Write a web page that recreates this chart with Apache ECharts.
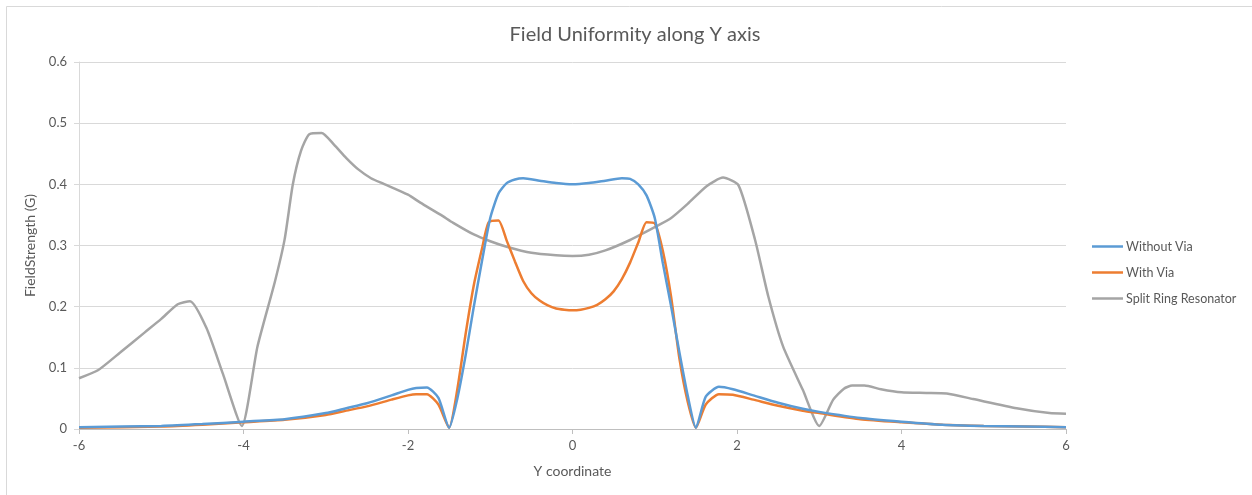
<!DOCTYPE html>
<html>
<head>
<meta charset="utf-8">
<title>Field Uniformity along Y axis</title>
<script src="https://cdn.jsdelivr.net/npm/echarts@6/dist/echarts.min.js"></script>
<style>
  html, body { margin: 0; padding: 0; background: #ffffff; }
  #chart { width: 1252px; height: 495px; }
</style>
</head>
<body>
<div id="chart"></div>
<script>
// Y coordinate samples and field strength (G) for each design
const withoutViaX = [-6, -5, -4.5, -4, -3.5, -3, -2.75, -2.5, -2.2, -2.0, -1.9, -1.77, -1.63, -1.5, -1.4, -1.3, -1.2, -1.1, -1.0, -0.9, -0.8, -0.7, -0.6, -0.4, -0.2, 0, 0.2, 0.4, 0.6, 0.7, 0.8, 0.9, 1.0, 1.1, 1.2, 1.3, 1.4, 1.5, 1.62, 1.78, 1.95, 2.2, 2.5, 2.8, 3.0, 3.5, 4, 4.5, 5, 5.5, 6];
const withoutViaY = [0.003, 0.005, 0.008, 0.012, 0.016, 0.026, 0.034, 0.042, 0.055, 0.064, 0.067, 0.068, 0.051, 0.002, 0.05, 0.12, 0.20, 0.275, 0.345, 0.385, 0.402, 0.408, 0.410, 0.406, 0.402, 0.400, 0.402, 0.406, 0.410, 0.409, 0.400, 0.382, 0.345, 0.27, 0.20, 0.125, 0.055, 0.002, 0.053, 0.069, 0.065, 0.055, 0.043, 0.033, 0.028, 0.018, 0.012, 0.007, 0.005, 0.004, 0.003];

const withViaX = [-6, -5, -4.5, -4, -3.5, -3, -2.75, -2.5, -2.2, -2.0, -1.9, -1.77, -1.63, -1.5, -1.4, -1.3, -1.2, -1.1, -1.02, -0.9, -0.8, -0.7, -0.6, -0.5, -0.4, -0.3, -0.2, -0.1, 0, 0.1, 0.2, 0.3, 0.4, 0.5, 0.6, 0.7, 0.8, 0.9, 1.0, 1.1, 1.2, 1.3, 1.4, 1.5, 1.62, 1.78, 1.95, 2.2, 2.5, 2.8, 3.0, 3.5, 4, 4.5, 5, 5.5, 6];
const withViaY = [0.002, 0.004, 0.007, 0.011, 0.015, 0.023, 0.030, 0.037, 0.048, 0.055, 0.057, 0.057, 0.040, 0.002, 0.065, 0.155, 0.235, 0.295, 0.338, 0.341, 0.308, 0.274, 0.242, 0.222, 0.210, 0.202, 0.197, 0.195, 0.194, 0.195, 0.198, 0.203, 0.212, 0.225, 0.245, 0.272, 0.305, 0.338, 0.336, 0.29, 0.215, 0.115, 0.045, 0.002, 0.040, 0.057, 0.056, 0.048, 0.038, 0.030, 0.026, 0.016, 0.011, 0.007, 0.005, 0.004, 0.003];

const splitRingX = [-6, -5.77, -5.5, -5.2, -5.0, -4.8, -4.65, -4.45, -4.25, -4.02, -3.83, -3.62, -3.5, -3.4, -3.3, -3.2, -3.05, -2.9, -2.75, -2.6, -2.45, -2.3, -2.0, -1.85, -1.6, -1.45, -1.2, -1.0, -0.8, -0.5, -0.2, 0, 0.2, 0.4, 0.7, 1.0, 1.2, 1.4, 1.63, 1.83, 2.02, 2.22, 2.38, 2.56, 2.8, 3.0, 3.17, 3.3, 3.4, 3.55, 3.75, 4.0, 4.3, 4.55, 4.87, 5.4, 5.8, 6];
const splitRingY = [0.083, 0.096, 0.125, 0.158, 0.180, 0.204, 0.209, 0.165, 0.09, 0.005, 0.135, 0.24, 0.31, 0.40, 0.455, 0.482, 0.484, 0.465, 0.443, 0.424, 0.41, 0.401, 0.383, 0.370, 0.350, 0.337, 0.318, 0.307, 0.298, 0.288, 0.284, 0.283, 0.285, 0.292, 0.309, 0.330, 0.345, 0.368, 0.397, 0.411, 0.398, 0.309, 0.217, 0.135, 0.064, 0.005, 0.048, 0.066, 0.071, 0.071, 0.065, 0.060, 0.059, 0.058, 0.049, 0.034, 0.026, 0.025];

const seriesNames = ['Without Via', 'With Via', 'Split Ring Resonator'];
const seriesColors = ['#5B9BD5', '#ED7D31', '#A5A5A5'];

const pair = (xs, ys) => xs.map((x, i) => [x, ys[i]]);
const datasets = [pair(withoutViaX, withoutViaY), pair(withViaX, withViaY), pair(splitRingX, splitRingY)];

const FONT = 'Lato, "Open Sans", sans-serif';
const TEXT = '#595959';

const chart = echarts.init(document.getElementById('chart'), null, { renderer: 'canvas' });
chart.setOption({
  animation: false,
  backgroundColor: '#ffffff',
  color: seriesColors,
  title: {
    text: 'Field Uniformity along Y axis',
    left: 630,
    textAlign: 'center',
    top: 20,
    textStyle: { fontFamily: FONT, fontSize: 20, fontWeight: 'normal', color: TEXT }
  },
  graphic: [{
    type: 'rect',
    shape: { x: 6.5, y: 6.5, width: 1260, height: 500 },
    style: { fill: 'none', stroke: '#d9d9d9', lineWidth: 1 },
    silent: true
  }],
  legend: {
    orient: 'vertical',
    left: 1087,
    top: 235,
    icon: 'rect',
    itemWidth: 31,
    itemHeight: 2.5,
    itemGap: 13,
    textStyle: { fontFamily: FONT, fontSize: 12.5, color: TEXT, padding: [0, 0, 0, -2] },
    data: seriesNames
  },
  grid: { left: 79, right: 186, top: 62, bottom: 66, containLabel: false },
  xAxis: {
    type: 'value',
    min: -6,
    max: 6,
    interval: 2,
    name: 'Y coordinate',
    nameLocation: 'middle',
    nameGap: 35,
    nameTextStyle: { fontFamily: FONT, fontSize: 14, color: TEXT },
    axisLine: { onZero: false, lineStyle: { color: '#bfbfbf', width: 1 } },
    axisTick: { show: true, length: 5, lineStyle: { color: '#bfbfbf' } },
    axisLabel: { fontFamily: FONT, fontSize: 13, color: TEXT, margin: 10 },
    splitLine: { show: false }
  },
  yAxis: {
    type: 'value',
    min: 0,
    max: 0.6,
    interval: 0.1,
    name: 'FieldStrength (G)',
    nameLocation: 'middle',
    nameRotate: 90,
    nameGap: 31,
    nameTextStyle: { fontFamily: FONT, fontSize: 14, color: TEXT },
    axisLine: { show: true, onZero: false, lineStyle: { color: '#d9d9d9', width: 1 } },
    axisTick: { show: true, length: 5, lineStyle: { color: '#d9d9d9' } },
    axisLabel: { fontFamily: FONT, fontSize: 13, color: TEXT, margin: 12 },
    splitLine: { show: true, lineStyle: { color: '#d9d9d9', width: 1 } }
  },
  series: seriesNames.map((name, i) => ({
    name: name,
    type: 'line',
    data: datasets[i],
    symbol: 'none',
    smooth: 0.2,
    lineStyle: { width: 2.5, color: seriesColors[i] },
    z: 3 - i
  }))
});
</script>
</body>
</html>
